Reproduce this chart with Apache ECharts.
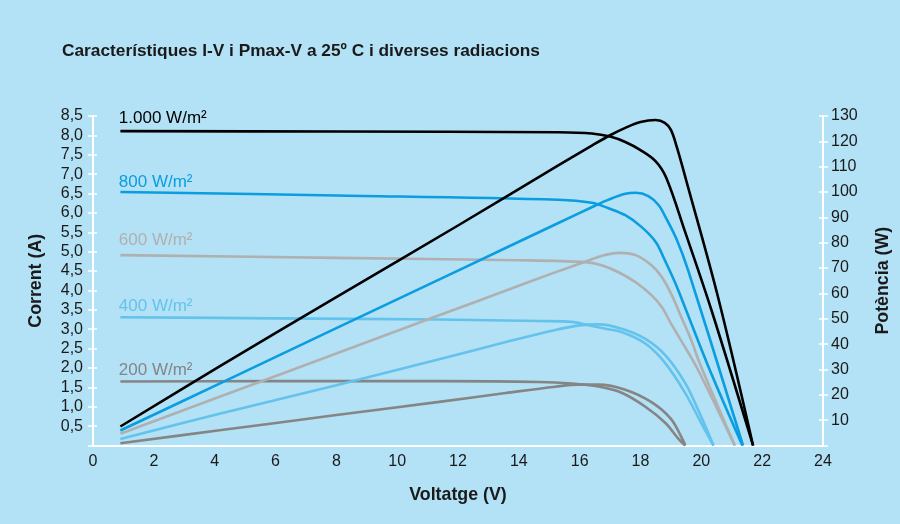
<!DOCTYPE html>
<html>
<head>
<meta charset="utf-8">
<script src="https://cdn.jsdelivr.net/npm/echarts@6/dist/echarts.min.js"></script>
<style>
html,body{margin:0;padding:0;background:#b3e1f5;}
#chart{width:900px;height:524px;}
</style>
</head>
<body>
<div id="chart"></div>
<script>
// ---- Data ----
const titleText = 'Característiques I-V i Pmax-V a 25º C i diverses radiacions';
const irradianceLabels = ['1.000 W/m²', '800 W/m²', '600 W/m²', '400 W/m²', '200 W/m²'];
const labelV = 0.85;
const labelI = [8.45, 6.8, 5.3, 3.6, 1.95];

// I-V curves (voltage, current)
const ivV1000 = [0.9, 8, 15.3, 16.4, 17.0, 17.5, 18.0, 18.5, 18.85, 19.45, 20.35, 21.7];
const ivI1000 = [8.11, 8.10, 8.08, 8.05, 7.97, 7.83, 7.62, 7.33, 6.9, 5.55, 3.45, 0];
const ivV800 = [0.9, 8, 15.3, 16.4, 16.95, 17.5, 18.03, 18.5, 18.8, 19.15, 19.5, 20.25, 21.35];
const ivI800 = [6.54, 6.45, 6.34, 6.26, 6.12, 5.94, 5.64, 5.25, 4.78, 4.18, 3.49, 2.0, 0];
const ivV600 = [0.9, 8, 14.0, 16.2, 16.72, 17.28, 17.84, 18.36, 18.7, 19.0, 19.47, 19.9, 21.1];
const ivI600 = [4.91, 4.84, 4.78, 4.73, 4.65, 4.47, 4.21, 3.88, 3.57, 3.15, 2.53, 1.94, 0];
const ivV400 = [0.9, 6, 11.38, 14.66, 15.74, 16.3, 16.85, 17.38, 18.16, 18.82, 19.48, 20.0, 20.4];
const ivI400 = [3.31, 3.28, 3.25, 3.21, 3.19, 3.1, 3.01, 2.93, 2.63, 2.12, 1.34, 0.57, 0];
const ivV200 = [0.9, 6, 11.38, 14.66, 15.74, 16.62, 17.38, 18.16, 18.82, 19.25, 19.47];
const ivI200 = [1.65, 1.66, 1.66, 1.64, 1.6, 1.52, 1.36, 1.0, 0.58, 0.17, 0];

// Pmax-V curves (voltage, power)
const pV1000 = [0.9, 4.16, 8, 12, 15.31, 16.4, 17.0, 17.5, 18.0, 18.5, 18.8, 19.0, 19.2, 19.5, 20.55, 21.7];
const p1000 = [7.5, 31.2, 58.5, 86.8, 110.6, 118.3, 122.4, 125.3, 127.6, 128.4, 127.3, 124.5, 117.5, 104.7, 58.5, 0];
const pV800 = [0.9, 4.16, 8, 12, 15.3, 16.5, 16.95, 17.5, 17.84, 18.26, 18.6, 18.82, 19.2, 19.57, 21.37];
const p800 = [5.9, 24.4, 46.3, 69.0, 87.8, 94.6, 97.0, 99.3, 99.7, 98.4, 94.8, 90.2, 81, 69, 0];
const pV600 = [0.9, 4.16, 8, 11, 14.0, 15.1, 16.2, 16.72, 17.28, 17.84, 18.36, 18.7, 19.0, 19.34, 19.67, 19.95, 21.1];
const p600 = [4.6, 19.2, 36.3, 49.7, 63.0, 67.9, 72.6, 74.8, 76.0, 75.1, 71.1, 66.5, 60, 50.7, 41.5, 32.4, 0];
const pV400 = [0.9, 4.16, 8, 11.38, 13.57, 15.2, 16.07, 16.62, 17.38, 18.16, 18.82, 19.48, 20.0, 20.4];
const p400 = [2.6, 12.5, 23.8, 34.0, 40.8, 45.6, 47.5, 47.8, 46.1, 42.1, 35.6, 24.4, 11.2, 0];
const pV200 = [0.9, 4.16, 8, 11.38, 13.57, 15.2, 15.97, 16.62, 17.5, 18.36, 19.0, 19.4, 19.47];
const p200 = [0.9, 6.0, 12.0, 17.2, 20.7, 23.2, 24.0, 24.0, 22.0, 17.1, 10.5, 2.0, 0];

const colors = ['#000000', '#0a9de0', '#b0b0b0', '#63c3ec', '#858585'];

function pairs(xs, ys) { return xs.map((x, i) => [x, ys[i]]); }

const ivSets = [[ivV1000, ivI1000], [ivV800, ivI800], [ivV600, ivI600], [ivV400, ivI400], [ivV200, ivI200]];
const pSets = [[pV1000, p1000], [pV800, p800], [pV600, p600], [pV400, p400], [pV200, p200]];

const FONT = '"Liberation Sans", Arial, Helvetica, sans-serif';
const series = [];
ivSets.forEach((s, k) => {
  series.push({
    type: 'line', xAxisIndex: 0, yAxisIndex: 0, data: pairs(s[0], s[1]),
    showSymbol: false, smooth: 0.35,
    lineStyle: { color: colors[k], width: 2.6 }, silent: true, z: 3
  });
});
pSets.forEach((s, k) => {
  series.push({
    type: 'line', xAxisIndex: 0, yAxisIndex: 1, data: pairs(s[0], s[1]),
    showSymbol: false, smooth: 0.35,
    lineStyle: { color: colors[k], width: 2.6 }, silent: true, z: 3
  });
});

const chart = echarts.init(document.getElementById('chart'), null, { renderer: 'canvas' });
const axisLabelStyle = { color: '#1a1a1a', fontSize: 16, fontFamily: FONT };
const nameStyle = { color: '#1a1a1a', fontSize: 17.8, fontWeight: 'bold', fontFamily: FONT };
const commaFmt = v => v === 0 ? '' : v.toFixed(1).replace('.', ',');

chart.setOption({
  backgroundColor: '#b3e1f5',
  animation: false,
  title: {
    text: titleText, left: 57, top: 38,
    textStyle: { color: '#1a1a1a', fontSize: 17.3, fontWeight: 'bold', fontFamily: FONT }
  },
  grid: { left: 93, right: 75, top: 116, bottom: 78.5, containLabel: false },
  xAxis: [{
    type: 'value', min: 0, max: 24, interval: 2,
    name: 'Voltatge (V)', nameLocation: 'middle', nameGap: 41, nameTextStyle: nameStyle,
    axisLine: { lineStyle: { color: '#ffffff', width: 2 } },
    axisTick: { show: false },
    axisLabel: Object.assign({ margin: 8 }, axisLabelStyle),
    splitLine: { show: false }
  }],
  yAxis: [{
    type: 'value', position: 'left', offset: 0, min: 0, max: 8.5, interval: 0.5,
    name: 'Corrent (A)', nameLocation: 'middle', nameGap: 48, nameRotate: 90, nameTextStyle: nameStyle,
    axisLine: { show: true, lineStyle: { color: '#ffffff', width: 2 } },
    axisTick: { show: true, length: 5, lineStyle: { color: '#ffffff', width: 1.5 } },
    axisLabel: Object.assign({ margin: 10, formatter: commaFmt }, axisLabelStyle),
    splitLine: { show: false }
  }, {
    type: 'value', position: 'right', offset: 0, min: 0, max: 130, interval: 10,
    name: 'Potència (W)', nameLocation: 'middle', nameGap: 51, nameRotate: 90, nameTextStyle: nameStyle,
    axisLine: { show: true, lineStyle: { color: '#ffffff', width: 2 } },
    axisTick: { show: true, length: 5, lineStyle: { color: '#ffffff', width: 1.5 } },
    axisLabel: Object.assign({ margin: 8, formatter: v => v === 0 ? '' : String(v) }, axisLabelStyle),
    splitLine: { show: false }
  }, {
    type: 'value', position: 'left', offset: 0, min: 0, max: 8.5, interval: 0.5,
    axisLine: { show: false }, axisLabel: { show: false }, splitLine: { show: false },
    axisTick: { show: true, inside: true, length: 4, lineStyle: { color: '#ffffff', width: 1.5 } }
  }, {
    type: 'value', position: 'right', offset: 0, min: 0, max: 130, interval: 10,
    axisLine: { show: false }, axisLabel: { show: false }, splitLine: { show: false },
    axisTick: { show: true, inside: true, length: 4, lineStyle: { color: '#ffffff', width: 1.5 } }
  }],
  series: series
});

const graphics = irradianceLabels.map((t, k) => {
  const p = chart.convertToPixel({ xAxisIndex: 0, yAxisIndex: 0 }, [labelV, labelI[k]]);
  return {
    type: 'text', x: p[0], y: p[1], z: 10, silent: true,
    style: { text: t, fill: colors[k], fontSize: 17, fontFamily: FONT, align: 'left', verticalAlign: 'middle' }
  };
});
chart.setOption({ graphic: graphics });
</script>
</body>
</html>
